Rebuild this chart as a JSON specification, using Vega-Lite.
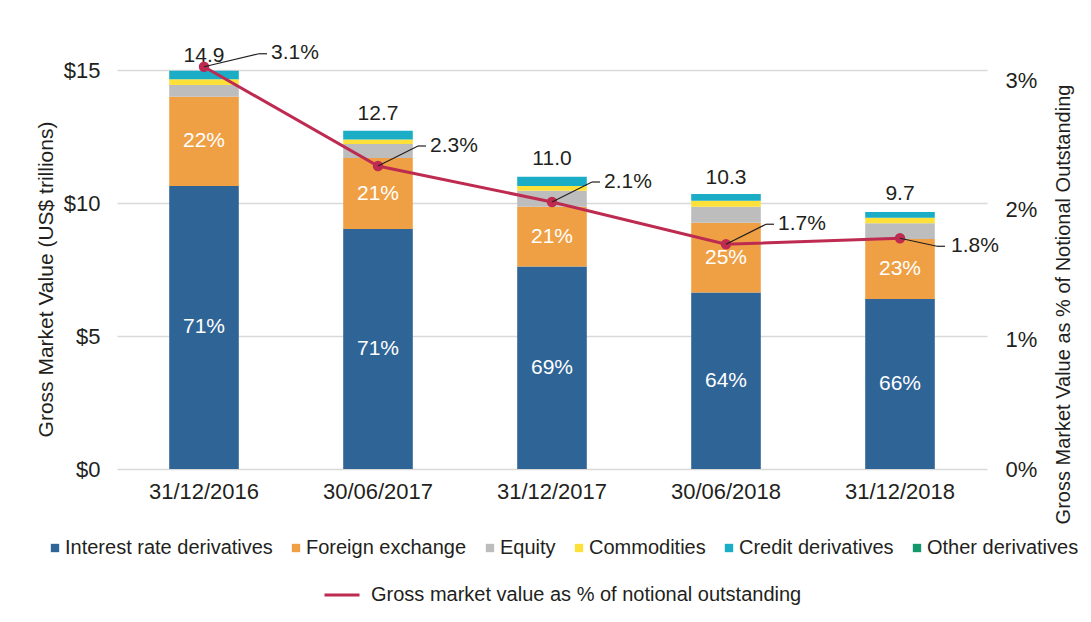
{
  "$schema": "https://vega.github.io/schema/vega-lite/v6.json",
  "width": 870,
  "height": 399,
  "autosize": {"type": "none"},
  "padding": {"left": 117, "top": 70, "right": 104, "bottom": 153},
  "background": "white",
  "config": {
    "font": "Liberation Sans",
    "view": {"stroke": null},
    "axis": {"labelColor": "#231f20", "titleColor": "#231f20", "titleFontWeight": "normal"},
    "text": {"font": "Liberation Sans"}
  },
  "datasets": {
    "bars": [
      {"date": "31/12/2016", "category": "Interest rate derivatives", "value": 10.64, "ord": 1, "share": "71%"},
      {"date": "31/12/2016", "category": "Foreign exchange", "value": 3.35, "ord": 2, "share": "22%"},
      {"date": "31/12/2016", "category": "Equity", "value": 0.45, "ord": 3, "share": null},
      {"date": "31/12/2016", "category": "Commodities", "value": 0.21, "ord": 4, "share": null},
      {"date": "31/12/2016", "category": "Credit derivatives", "value": 0.32, "ord": 5, "share": null},
      {"date": "31/12/2016", "category": "Other derivatives", "value": 0.0, "ord": 6, "share": null},
      {"date": "30/06/2017", "category": "Interest rate derivatives", "value": 9.02, "ord": 1, "share": "71%"},
      {"date": "30/06/2017", "category": "Foreign exchange", "value": 2.67, "ord": 2, "share": "21%"},
      {"date": "30/06/2017", "category": "Equity", "value": 0.53, "ord": 3, "share": null},
      {"date": "30/06/2017", "category": "Commodities", "value": 0.17, "ord": 4, "share": null},
      {"date": "30/06/2017", "category": "Credit derivatives", "value": 0.33, "ord": 5, "share": null},
      {"date": "30/06/2017", "category": "Other derivatives", "value": 0.0, "ord": 6, "share": null},
      {"date": "31/12/2017", "category": "Interest rate derivatives", "value": 7.61, "ord": 1, "share": "69%"},
      {"date": "31/12/2017", "category": "Foreign exchange", "value": 2.25, "ord": 2, "share": "21%"},
      {"date": "31/12/2017", "category": "Equity", "value": 0.60, "ord": 3, "share": null},
      {"date": "31/12/2017", "category": "Commodities", "value": 0.18, "ord": 4, "share": null},
      {"date": "31/12/2017", "category": "Credit derivatives", "value": 0.35, "ord": 5, "share": null},
      {"date": "31/12/2017", "category": "Other derivatives", "value": 0.0, "ord": 6, "share": null},
      {"date": "30/06/2018", "category": "Interest rate derivatives", "value": 6.64, "ord": 1, "share": "64%"},
      {"date": "30/06/2018", "category": "Foreign exchange", "value": 2.62, "ord": 2, "share": "25%"},
      {"date": "30/06/2018", "category": "Equity", "value": 0.60, "ord": 3, "share": null},
      {"date": "30/06/2018", "category": "Commodities", "value": 0.22, "ord": 4, "share": null},
      {"date": "30/06/2018", "category": "Credit derivatives", "value": 0.26, "ord": 5, "share": null},
      {"date": "30/06/2018", "category": "Other derivatives", "value": 0.0, "ord": 6, "share": null},
      {"date": "31/12/2018", "category": "Interest rate derivatives", "value": 6.39, "ord": 1, "share": "66%"},
      {"date": "31/12/2018", "category": "Foreign exchange", "value": 2.26, "ord": 2, "share": "23%"},
      {"date": "31/12/2018", "category": "Equity", "value": 0.59, "ord": 3, "share": null},
      {"date": "31/12/2018", "category": "Commodities", "value": 0.21, "ord": 4, "share": null},
      {"date": "31/12/2018", "category": "Credit derivatives", "value": 0.21, "ord": 5, "share": null},
      {"date": "31/12/2018", "category": "Other derivatives", "value": 0.0, "ord": 6, "share": null}
    ],
    "line": [
      {"date": "31/12/2016", "pct": 3.105, "pctLabel": "3.1%", "total": 14.9},
      {"date": "30/06/2017", "pct": 2.339, "pctLabel": "2.3%", "total": 12.7},
      {"date": "31/12/2017", "pct": 2.061, "pctLabel": "2.1%", "total": 11.0},
      {"date": "30/06/2018", "pct": 1.735, "pctLabel": "1.7%", "total": 10.3},
      {"date": "31/12/2018", "pct": 1.781, "pctLabel": "1.8%", "total": 9.7}
    ]
  },
  "encoding": {
    "x": {
      "field": "date",
      "type": "nominal",
      "sort": null,
      "scale": {
        "domain": ["31/12/2016", "30/06/2017", "31/12/2017", "30/06/2018", "31/12/2018"],
        "paddingInner": 0.6,
        "paddingOuter": 0.3
      },
      "axis": {"title": null, "labelAngle": 0, "labelFontSize": 22, "labelPadding": 12, "ticks": false, "domain": false}
    }
  },
  "layer": [
    {
      "encoding": {
        "y": {
          "type": "quantitative",
          "scale": {"domain": [0, 15], "nice": false},
          "axis": {
            "title": "Gross Market Value (US$ trillions)",
            "titleFontSize": 21,
            "titlePadding": 7,
            "titleY": 209,
            "values": [0, 5, 10, 15],
            "labelExpr": "'$' + datum.value",
            "labelFontSize": 22,
            "labelPadding": 17,
            "ticks": false,
            "domain": false,
            "grid": true,
            "gridColor": "#d9d9d9",
            "gridWidth": 1.5
          }
        }
      },
      "layer": [
        {
          "data": {"name": "bars"},
          "transform": [
            {"stack": "value", "groupby": ["date"], "sort": [{"field": "ord", "order": "ascending"}], "as": ["v0", "v1"]}
          ],
          "mark": {"type": "bar"},
          "encoding": {
            "y": {"field": "v1", "type": "quantitative"},
            "y2": {"field": "v0"},
            "color": {
              "field": "category",
              "type": "nominal",
              "scale": {
                "domain": ["Interest rate derivatives", "Foreign exchange", "Equity", "Commodities", "Credit derivatives", "Other derivatives"],
                "range": ["#2f6496", "#f0a044", "#bdbdbd", "#fde13a", "#1badc5", "#14976b"]
              },
              "legend": {
                "title": null,
                "orient": "none",
                "legendX": -72,
                "legendY": 468,
                "direction": "horizontal",
                "columns": 6,
                "symbolType": "square",
                "symbolSize": 70,
                "symbolStrokeWidth": 0,
                "labelFontSize": 20,
                "labelColor": "#231f20",
                "labelLimit": 300,
                "columnPadding": 13,
                "labelOffset": 0
              }
            }
          }
        },
        {
          "data": {"name": "bars"},
          "transform": [
            {"stack": "value", "groupby": ["date"], "sort": [{"field": "ord", "order": "ascending"}], "as": ["v0", "v1"]},
            {"filter": "isValid(datum.share)"},
            {"fold": ["v0", "v1"], "as": ["edgeName", "edge"]},
            {"aggregate": [{"op": "mean", "field": "edge", "as": "mid"}], "groupby": ["date", "share"]}
          ],
          "mark": {"type": "text", "color": "white", "fontSize": 21, "baseline": "middle"},
          "encoding": {
            "y": {"field": "mid", "type": "quantitative"},
            "text": {"field": "share", "type": "nominal"}
          }
        },
        {
          "data": {"name": "line"},
          "mark": {"type": "text", "color": "#231f20", "fontSize": 21, "baseline": "alphabetic", "dy": -11},
          "encoding": {
            "y": {"field": "total", "type": "quantitative"},
            "text": {"field": "total", "type": "quantitative", "format": ".1f"}
          }
        }
      ]
    },
    {
      "data": {"name": "line"},
      "layer": [
        {
          "mark": {"type": "line", "strokeWidth": 3},
          "encoding": {
            "y": {
              "field": "pct",
              "type": "quantitative",
              "scale": {"domain": [0, 3.08], "nice": false},
              "axis": {
                "orient": "right",
                "title": "Gross Market Value as % of Notional Outstanding",
                "titleFontSize": 20,
                "titlePadding": 17,
                "titleAngle": 270,
                "titleBaseline": "top",
                "titleY": 234,
                "values": [0, 1, 2, 3],
                "labelExpr": "datum.value + '%'",
                "labelFontSize": 22,
                "labelPadding": 18,
                "ticks": false,
                "domain": false,
                "grid": false
              }
            },
            "stroke": {
              "datum": "Gross market value as % of notional outstanding",
              "type": "nominal",
              "scale": {"range": ["#be2b50"]},
              "legend": {
                "title": null,
                "orient": "none",
                "legendX": 206,
                "legendY": 506,
                "symbolType": "stroke",
                "symbolSize": 1225,
                "symbolStrokeWidth": 3,
                "labelFontSize": 20,
                "labelColor": "#231f20",
                "labelLimit": 600,
                "labelOffset": 10
              }
            }
          }
        },
        {
          "mark": {"type": "point", "filled": true, "size": 110, "color": "#be2b50", "opacity": 1},
          "encoding": {"y": {"field": "pct", "type": "quantitative"}}
        },
        {
          "transform": [{"filter": "datum.date == '31/12/2016'"}],
          "layer": [
            {
              "mark": {"type": "rule", "color": "#231f20", "strokeWidth": 1.2, "x2Offset": 55, "y2Offset": -13},
              "encoding": {"y": {"field": "pct", "type": "quantitative"}, "x2": {"field": "date"}, "y2": {"field": "pct"}}
            },
            {
              "mark": {"type": "rule", "color": "#231f20", "strokeWidth": 1.2, "xOffset": 55, "x2Offset": 63, "yOffset": -13, "y2Offset": -13},
              "encoding": {"y": {"field": "pct", "type": "quantitative"}, "x2": {"field": "date"}, "y2": {"field": "pct"}}
            },
            {
              "mark": {"type": "text", "align": "left", "baseline": "middle", "dx": 67, "dy": -14, "fontSize": 21, "color": "#231f20"},
              "encoding": {"y": {"field": "pct", "type": "quantitative"}, "text": {"field": "pctLabel"}}
            }
          ]
        },
        {
          "transform": [{"filter": "datum.date != '31/12/2016' && datum.date != '31/12/2018'"}],
          "layer": [
            {
              "mark": {"type": "rule", "color": "#231f20", "strokeWidth": 1.2, "x2Offset": 40, "y2Offset": -20},
              "encoding": {"y": {"field": "pct", "type": "quantitative"}, "x2": {"field": "date"}, "y2": {"field": "pct"}}
            },
            {
              "mark": {"type": "rule", "color": "#231f20", "strokeWidth": 1.2, "xOffset": 40, "x2Offset": 48, "yOffset": -20, "y2Offset": -20},
              "encoding": {"y": {"field": "pct", "type": "quantitative"}, "x2": {"field": "date"}, "y2": {"field": "pct"}}
            },
            {
              "mark": {"type": "text", "align": "left", "baseline": "middle", "dx": 52, "dy": -20, "fontSize": 21, "color": "#231f20"},
              "encoding": {"y": {"field": "pct", "type": "quantitative"}, "text": {"field": "pctLabel"}}
            }
          ]
        },
        {
          "transform": [{"filter": "datum.date == '31/12/2018'"}],
          "layer": [
            {
              "mark": {"type": "rule", "color": "#231f20", "strokeWidth": 1.2, "x2Offset": 37, "y2Offset": 8},
              "encoding": {"y": {"field": "pct", "type": "quantitative"}, "x2": {"field": "date"}, "y2": {"field": "pct"}}
            },
            {
              "mark": {"type": "rule", "color": "#231f20", "strokeWidth": 1.2, "xOffset": 37, "x2Offset": 45, "yOffset": 8, "y2Offset": 8},
              "encoding": {"y": {"field": "pct", "type": "quantitative"}, "x2": {"field": "date"}, "y2": {"field": "pct"}}
            },
            {
              "mark": {"type": "text", "align": "left", "baseline": "middle", "dx": 51, "dy": 8, "fontSize": 21, "color": "#231f20"},
              "encoding": {"y": {"field": "pct", "type": "quantitative"}, "text": {"field": "pctLabel"}}
            }
          ]
        }
      ]
    }
  ],
  "resolve": {"scale": {"y": "independent"}}
}
